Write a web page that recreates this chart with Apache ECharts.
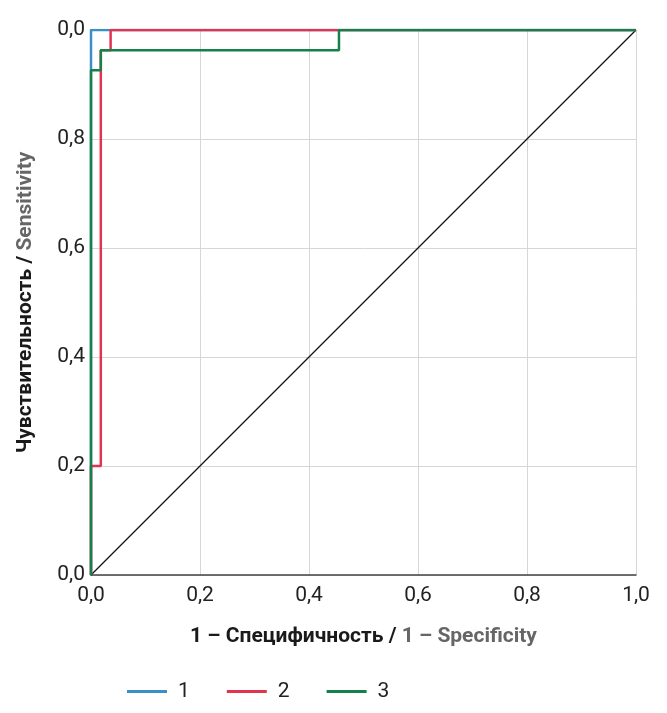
<!DOCTYPE html>
<html>
<head>
<meta charset="utf-8" />
<title>ROC</title>
<script src="https://cdn.jsdelivr.net/npm/echarts@6.0.0/dist/echarts.min.js"></script>
<style>
  html, body { margin: 0; padding: 0; background: #fff; }
  #main { width: 667px; height: 713px; }
</style>
</head>
<body>
<div id="main"></div>
<script>
// ROC-кривые, точки [1 - специфичность, чувствительность]
const curve1 = [[0, 0], [0, 1], [1, 1]];
const curve2 = [[0, 0], [0, 0.2], [0.018, 0.2], [0.018, 0.963], [0.036, 0.963], [0.036, 1], [1, 1]];
const curve3 = [[0, 0], [0, 0.926], [0.018, 0.926], [0.018, 0.963], [0.455, 0.963], [0.455, 1], [1, 1]];
const diagonal = [[0, 0], [1, 1]];

const xTickLabels = ['0,0', '0,2', '0,4', '0,6', '0,8', '1,0'];
const yTickLabels = ['0,0', '0,2', '0,4', '0,6', '0,8', '0,0'];

const FONT = 'Roboto, "Liberation Sans", sans-serif';

let myChart = echarts.init(document.getElementById('main'));

const lineSeries = (name, data, color) => ({
    name: name,
    type: 'line',
    data: data,
    symbol: 'none',
    lineStyle: { color: color, width: 2.5 },
    itemStyle: { color: color },
    animation: false
});

let option = {
    backgroundColor: '#fff',
    grid: { left: 91, right: 31, top: 30, bottom: 138 },
    xAxis: {
        type: 'value',
        min: 0, max: 1, interval: 0.2,
        axisLine: { show: true, lineStyle: { color: '#444', width: 1.5 } },
        axisTick: { show: false },
        splitLine: { show: true, lineStyle: { color: '#d6d6d6', width: 1 } },
        axisLabel: {
            fontFamily: FONT, fontSize: 21, color: '#222', margin: 10,
            formatter: (v) => xTickLabels[Math.round(v * 5)]
        },
        name: '{a|1 – Специфичность / }{b|1 – Specificity}',
        nameLocation: 'middle',
        nameGap: 51,
        nameTextStyle: {
            rich: {
                a: { fontFamily: FONT, fontSize: 21, fontWeight: 'bold', color: '#1a1a1a' },
                b: { fontFamily: FONT, fontSize: 21, fontWeight: 'bold', color: '#666' }
            }
        }
    },
    yAxis: {
        type: 'value',
        min: 0, max: 1, interval: 0.2,
        axisLine: { show: true, lineStyle: { color: '#444', width: 1.5 } },
        axisTick: { show: false },
        splitLine: { show: true, lineStyle: { color: '#d6d6d6', width: 1 } },
        axisLabel: {
            fontFamily: FONT, fontSize: 21, color: '#222', margin: 6,
            formatter: (v) => yTickLabels[Math.round(v * 5)]
        },
        name: '{a|Чувствительность / }{b|Sensitivity}',
        nameLocation: 'middle',
        nameGap: 55,
        nameRotate: 90,
        nameTextStyle: {
            rich: {
                a: { fontFamily: FONT, fontSize: 21, fontWeight: 'bold', color: '#1a1a1a' },
                b: { fontFamily: FONT, fontSize: 21, fontWeight: 'bold', color: '#666' }
            }
        }
    },
    legend: {
        bottom: 6,
        left: 122,
        itemWidth: 40,
        itemHeight: 3,
        itemGap: 37,
        icon: 'rect',
        textStyle: { fontFamily: FONT, fontSize: 21, color: '#222', padding: [0, 0, 0, 6] },
        data: ['1', '2', '3']
    },
    series: [
        lineSeries('1', curve1, '#3a8fc4'),
        lineSeries('2', curve2, '#e2334f'),
        lineSeries('3', curve3, '#158049'),
        {
            name: 'diag',
            type: 'line',
            data: diagonal,
            symbol: 'none',
            lineStyle: { color: '#111', width: 1.3 },
            animation: false,
            z: 1
        }
    ]
};
myChart.setOption(option);
</script>
</body>
</html>
